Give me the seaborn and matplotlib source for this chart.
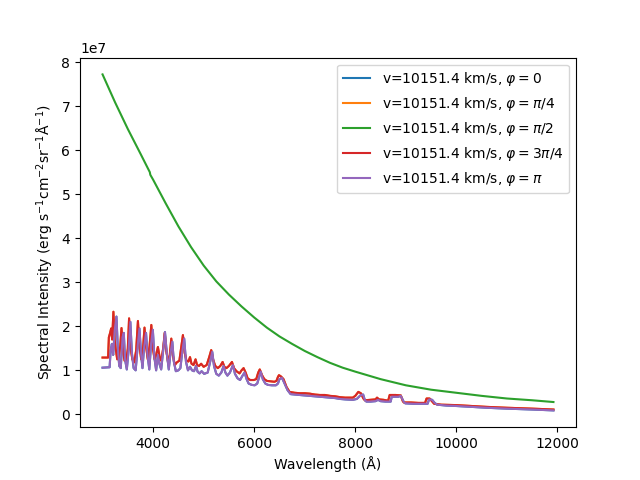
import numpy as np
import pandas as pd
import matplotlib
matplotlib.use("Agg")
import matplotlib.pyplot as plt
import seaborn as sns

# continuum (phi = pi/2), units of 1e7
green_wl = [3000, 3250, 3500, 3750, 3935, 3945, 4000, 4250, 4500, 4750, 5000, 5250,
            5500, 5750, 6000, 6250, 6500, 6750, 7000, 7250, 7500, 7750, 8000, 8500,
            9000, 9500, 10000, 10500, 11000, 11500, 11920]
green_flux = [7.72, 7.08, 6.48, 5.92, 5.50, 5.44, 5.33, 4.79, 4.27, 3.80, 3.38, 3.02,
              2.72, 2.45, 2.20, 1.97, 1.77, 1.60, 1.44, 1.30, 1.17, 1.06, 0.97, 0.80,
              0.66, 0.56, 0.49, 0.42, 0.36, 0.32, 0.28]

# phi = pi/4 and 3pi/4 (identical)
red_wl = [3000, 3110, 3125, 3150, 3170, 3190, 3215, 3240, 3265, 3290, 3320, 3350, 3375,
          3405, 3435, 3470, 3500, 3525, 3555, 3590, 3625, 3665, 3700, 3730, 3765, 3795,
          3830, 3860, 3895, 3930, 3965, 3995, 4030, 4060, 4095, 4130, 4160, 4200, 4230,
          4260, 4300, 4330, 4360, 4390, 4430, 4470, 4520, 4560, 4590, 4625, 4660, 4700,
          4730, 4760, 4800, 4840, 4870, 4910, 4950, 5000, 5060, 5110, 5150, 5185, 5230,
          5280, 5330, 5375, 5410, 5450, 5500, 5560, 5600, 5650, 5710, 5750, 5790, 5830,
          5870, 5920, 5990, 6040, 6080, 6110, 6150, 6200, 6250, 6320, 6400, 6440, 6470,
          6490, 6530, 6580, 6640, 6700, 6800, 6900, 7000, 7100, 7200, 7300, 7400, 7500,
          7600, 7700, 7800, 7950, 8000, 8060, 8110, 8160, 8190, 8300, 8400, 8430, 8470,
          8560, 8650, 8680, 8800, 8900, 8940, 8960, 9100, 9250, 9380, 9410, 9470, 9500,
          9560, 9700, 10000, 10300, 10600, 11000, 11500, 11920]
red_flux = [1.29, 1.29, 1.75, 1.85, 1.95, 1.70, 2.33, 1.70, 1.45, 1.25, 1.28, 1.55, 1.96,
            1.45, 1.22, 1.22, 1.50, 2.18, 1.50, 1.25, 1.18, 1.45, 2.12, 1.55, 1.25, 1.40,
            1.97, 1.55, 1.25, 1.55, 2.03, 1.50, 1.25, 1.35, 1.53, 1.30, 1.22, 1.50, 1.85,
            1.45, 1.16, 1.35, 1.72, 1.35, 1.12, 1.18, 1.22, 1.55, 1.80, 1.40, 1.22, 1.20,
            1.30, 1.15, 1.12, 1.25, 1.12, 1.10, 1.15, 1.08, 1.12, 1.30, 1.46, 1.25, 1.10,
            1.05, 1.10, 1.19, 1.08, 1.05, 1.10, 1.19, 1.05, 0.98, 0.93, 1.00, 1.05, 0.95,
            0.82, 0.78, 0.78, 0.80, 0.95, 1.02, 0.90, 0.80, 0.76, 0.75, 0.74, 0.76, 0.85,
            0.89, 0.86, 0.80, 0.62, 0.51, 0.49, 0.48, 0.48, 0.47, 0.45, 0.44, 0.44, 0.42,
            0.41, 0.39, 0.38, 0.38, 0.42, 0.51, 0.48, 0.36, 0.32, 0.33, 0.34, 0.38, 0.34,
            0.33, 0.31, 0.44, 0.44, 0.43, 0.30, 0.27, 0.27, 0.26, 0.26, 0.36, 0.36, 0.32,
            0.24, 0.22, 0.21, 0.19, 0.17, 0.15, 0.13, 0.11]

# phi = 0 and pi (identical)
purple_wl = [3000, 3140, 3160, 3185, 3210, 3240, 3275, 3300, 3330, 3360, 3395, 3420, 3445,
             3480, 3515, 3550, 3580, 3615, 3655, 3695, 3730, 3760, 3790, 3820, 3860, 3890,
             3925, 3960, 3995, 4025, 4060, 4095, 4125, 4160, 4195, 4235, 4270, 4310, 4345,
             4380, 4410, 4450, 4500, 4540, 4580, 4615, 4650, 4690, 4730, 4770, 4810, 4850,
             4880, 4920, 4960, 5010, 5080, 5130, 5170, 5205, 5250, 5300, 5350, 5395, 5430,
             5470, 5520, 5580, 5620, 5670, 5720, 5770, 5810, 5850, 5890, 5950, 6010, 6060,
             6100, 6130, 6170, 6220, 6270, 6350, 6430, 6470, 6500, 6550, 6600, 6660, 6720,
             6800, 6900, 7000, 7100, 7200, 7300, 7400, 7500, 7600, 7700, 7800, 7950, 8030,
             8100, 8155, 8190, 8220, 8300, 8400, 8450, 8500, 8600, 8700, 8720, 8850, 8900,
             8960, 8990, 9150, 9300, 9430, 9460, 9520, 9570, 9620, 9800, 10000, 10300,
             10600, 11000, 11500, 11920]
purple_flux = [1.06, 1.07, 1.45, 1.60, 1.35, 1.90, 2.22, 1.55, 1.10, 1.05, 1.75, 1.85, 1.25,
               1.02, 1.45, 2.10, 1.40, 1.05, 1.00, 1.55, 1.95, 1.40, 1.05, 1.50, 1.85, 1.35,
               1.02, 1.60, 1.92, 1.30, 1.00, 1.35, 1.15, 1.02, 1.40, 1.87, 1.40, 1.02, 1.40,
               1.65, 1.20, 0.98, 1.00, 1.05, 1.45, 1.72, 1.20, 1.00, 1.08, 1.00, 0.98, 1.10,
               0.97, 0.93, 0.98, 0.92, 0.95, 1.20, 1.42, 1.10, 0.92, 0.88, 0.95, 1.10, 0.95,
               0.88, 0.95, 1.12, 0.92, 0.82, 0.78, 0.88, 0.95, 0.80, 0.70, 0.67, 0.66, 0.70,
               0.85, 0.97, 0.80, 0.70, 0.67, 0.66, 0.66, 0.70, 0.80, 0.83, 0.70, 0.55, 0.46,
               0.45, 0.44, 0.43, 0.42, 0.41, 0.40, 0.39, 0.38, 0.37, 0.35, 0.34, 0.33, 0.35,
               0.43, 0.45, 0.32, 0.29, 0.29, 0.30, 0.33, 0.30, 0.29, 0.29, 0.40, 0.40, 0.42,
               0.28, 0.25, 0.24, 0.24, 0.24, 0.34, 0.33, 0.26, 0.22, 0.20, 0.19, 0.17, 0.15,
               0.13, 0.11, 0.09]

labels = [r"v=10151.4 km/s, $\varphi = 0$",
          r"v=10151.4 km/s, $\varphi = \pi/4$",
          r"v=10151.4 km/s, $\varphi = \pi/2$",
          r"v=10151.4 km/s, $\varphi = 3\pi/4$",
          r"v=10151.4 km/s, $\varphi = \pi$"]

series = [(purple_wl, purple_flux), (red_wl, red_flux), (green_wl, green_flux),
          (red_wl, red_flux), (purple_wl, purple_flux)]

fig, ax = plt.subplots(figsize=(6.4, 4.8), dpi=100)
for i, ((wl, fl), lab) in enumerate(zip(series, labels)):
    df = pd.DataFrame({"wl": wl, "flux": np.array(fl) * 1e7})
    sns.lineplot(data=df, x="wl", y="flux", ax=ax, color=f"C{i}", label=lab,
                 linewidth=1.5, sort=False)

ax.set_xlabel("Wavelength (Å)")
ax.set_ylabel(r"Spectral Intensity (erg s$^{-1}$cm$^{-2}$sr$^{-1}$Å$^{-1}$)")
ax.legend(loc="upper right")

plt.savefig("out.png", dpi=100)
